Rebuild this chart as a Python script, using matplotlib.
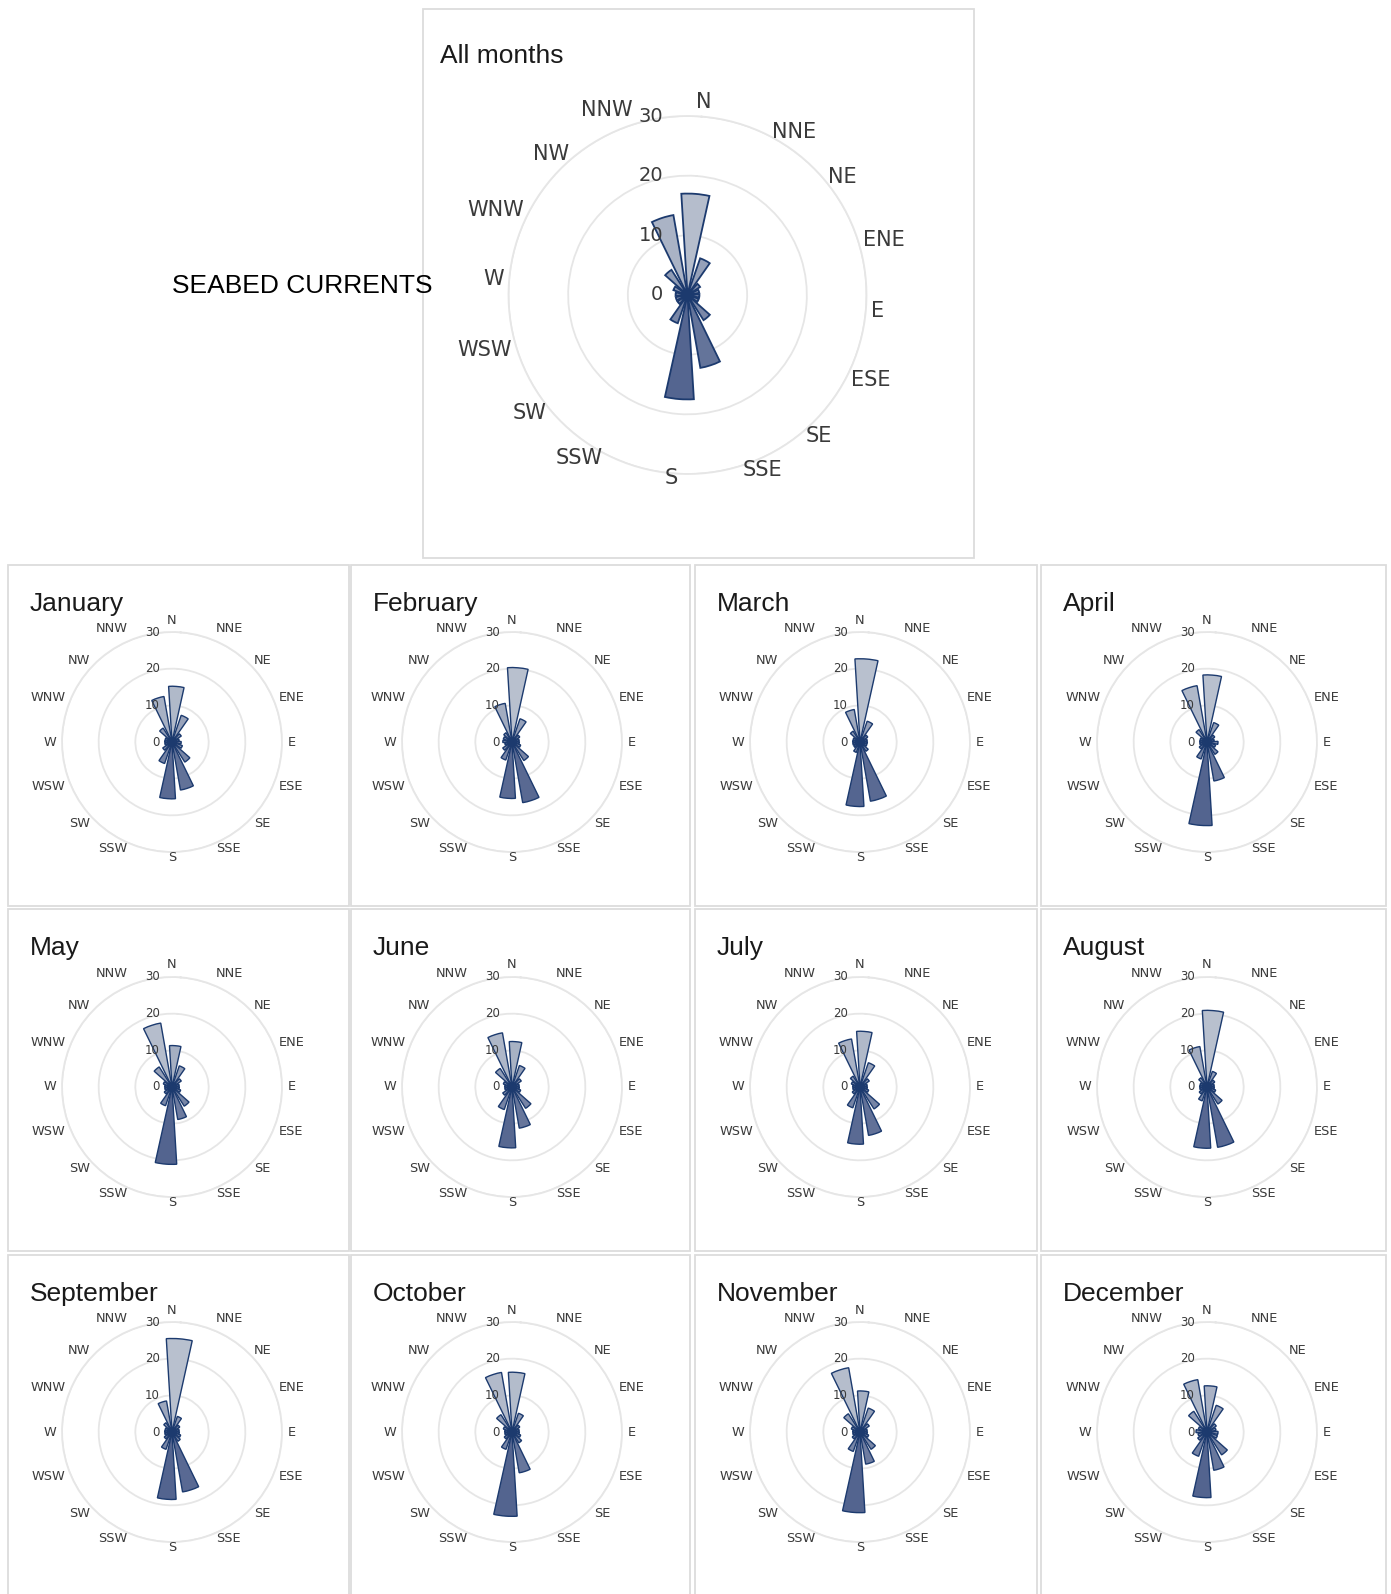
import matplotlib
matplotlib.use("Agg")
import matplotlib.pyplot as plt
import numpy as np
from matplotlib.colors import LinearSegmentedColormap
from matplotlib.patches import Rectangle
from matplotlib.transforms import offset_copy

W, H = 1391, 1594

# direction order: N, NNE, NE, ENE, E, ESE, SE, SSE, S, SSW, SW, WSW, W, WNW, NW, NNW
directions = ["N", "NNE", "NE", "ENE", "E", "ESE", "SE", "SSE",
              "S", "SSW", "SW", "WSW", "W", "WNW", "NW", "NNW"]
radial_ticks = [0, 10, 20, 30]

all_months = [17, 6.5, 2.5, 2, 2, 2, 5, 12.4, 17.5, 5, 2, 2, 2, 2.5, 5, 13.6]
january = [15.2, 7.7, 3, 2, 2.5, 3, 6.5, 13.3, 15.5, 6.2, 3, 2, 2, 2, 4.5, 12.6]
february = [20.3, 6.7, 2.5, 2, 2, 2.5, 6, 16.8, 15.4, 5.2, 3, 2, 2.5, 2.5, 3, 10.7]
march = [22.7, 6, 2.5, 2, 2, 2, 3, 16.4, 17.6, 3, 2, 2, 2, 2, 3.5, 9]
april = [18.3, 5.6, 2.5, 2, 3, 2.5, 4, 10.8, 22.8, 4.9, 2.5, 2, 2, 2, 4, 15.6]
may = [11.3, 6.1, 3, 2, 2, 2.5, 6.2, 9, 21.1, 5.4, 2.5, 2, 2, 2.5, 6.5, 17.7]
june = [12.4, 6.2, 3, 2, 2, 2.5, 6.9, 11.4, 16.6, 6.5, 3, 2, 2, 2.5, 6, 15]
july = [15.2, 7, 3, 2, 2, 2.5, 7.1, 13.4, 15.6, 6, 2.5, 2, 2, 2.5, 3.5, 13.3]
august = [20.9, 4.5, 2.5, 2, 2, 2.5, 5.5, 16.7, 16.7, 4, 2.5, 2, 2, 2, 3, 11.2]
september = [25.5, 4.5, 2.5, 2, 2, 2.5, 3, 16.6, 18.4, 5, 2.5, 2, 2, 2, 3, 8.6]
october = [16.3, 5.4, 2.5, 2, 2, 2.5, 3.5, 11.3, 23, 5, 2.5, 2, 2, 2.5, 5.6, 16.5]
november = [11.2, 6.9, 3, 2, 2, 2.5, 5.6, 8.9, 22, 5.6, 2.5, 2, 2, 2.5, 5.9, 17.8]
december = [12.6, 7.7, 3, 2.5, 3, 3, 7.4, 10.6, 17.9, 7, 3, 2.5, 3, 2.5, 6.7, 14.5]

month_names = ["January", "February", "March", "April", "May", "June", "July",
               "August", "September", "October", "November", "December"]
month_values = [january, february, march, april, may, june, july, august,
                september, october, november, december]

GRID = "#e6e6e6"
EDGE = "#1c3a6e"
LABEL = "#3a3a3a"
BOX = "#dcdcdc"
ROT = 4.5  # bars sit slightly clockwise of the compass points
cmap = LinearSegmentedColormap.from_list("rose", ["#53648f", "#b8c0ce"])


def add_box(fig, x0, y0, x1, y1):
    fig.patches.append(Rectangle((x0 / W, 1 - y1 / H), (x1 - x0) / W, (y1 - y0) / H,
                                 transform=fig.transFigure, fill=False,
                                 edgecolor=BOX, linewidth=1.3))


def draw_rose(fig, cx, cy, r, values, fs, rfs, lw, label_rot, label_r, rlab_dx):
    ax = fig.add_axes([(cx - r) / W, 1 - (cy + r) / H, 2 * r / W, 2 * r / H],
                      projection="polar")
    ax.set_facecolor("none")
    ax.set_theta_zero_location("N", offset=-ROT)
    ax.set_theta_direction(-1)

    theta = np.deg2rad(np.arange(len(directions)) * 22.5)
    vals = np.array(values)
    yc = 2.0 / 3.0 * vals * np.cos(theta + np.deg2rad(ROT))
    colors = cmap(np.clip(0.5 + yc / 24.0, 0, 1))
    ax.bar(theta, vals, width=np.deg2rad(16), bottom=0, color=colors,
           edgecolor=EDGE, linewidth=lw, zorder=3)

    ax.set_ylim(0, 30)
    ax.set_xticks([])
    ax.set_yticks([10, 20, 30])
    ax.set_yticklabels([])
    ax.yaxis.grid(True, color=GRID, linewidth=1.3)
    ax.spines["polar"].set_color(GRID)
    ax.spines["polar"].set_linewidth(1.3)

    # compass labels
    for i, name in enumerate(directions):
        vis = i * 22.5 + label_rot
        s, c = np.sin(np.deg2rad(vis)), np.cos(np.deg2rad(vis))
        ha = "left" if s > 0.15 else ("right" if s < -0.15 else "center")
        va = "bottom" if c > 0.9 else "center"
        ax.text(np.deg2rad(vis - ROT), label_r, name, ha=ha, va=va,
                fontsize=fs, color=LABEL, clip_on=False)

    # radial labels
    tr = offset_copy(ax.transData, fig=fig, x=-rlab_dx, y=0, units="dots")
    for t in radial_ticks:
        ax.text(np.deg2rad(-ROT), t, str(t), transform=tr, ha="right", va="center",
                fontsize=rfs, color=LABEL, clip_on=False)
    return ax


def main():
    fig = plt.figure(figsize=(W / 100, H / 100), dpi=100)
    fig.patch.set_facecolor("white")

    # top panel
    add_box(fig, 423, 9, 974, 558)
    fig.text(440 / W, 1 - 63 / H, "All months", fontsize=19, family="Liberation Sans",
             color="#1a1a1a", ha="left", va="baseline")
    fig.text(172 / W, 1 - 286 / H, "SEABED CURRENTS", fontsize=19,
             family="Liberation Sans", color="black", ha="left", va="center")
    draw_rose(fig, 687.5, 295, 179, all_months, 15, 14, 1.3, 5, 30.8, 24)

    # month panels
    col_edges = [(8, 349), (351, 690), (695, 1037), (1041, 1386)]
    row_edges = [(565, 906), (909, 1251), (1255, 1610)]
    centers_x = [172, 512, 860, 1207]
    centers_y = [742, 1087, 1432]
    for k, (name, vals) in enumerate(zip(month_names, month_values)):
        row, col = divmod(k, 4)
        x0, x1 = col_edges[col]
        y0, y1 = row_edges[row]
        add_box(fig, x0, y0, x1, y1)
        fig.text((x0 + 22) / W, 1 - (y0 + 46) / H, name, fontsize=19,
                 family="Liberation Sans", color="#1a1a1a", ha="left", va="baseline")
        draw_rose(fig, centers_x[col], centers_y[row], 110, vals, 9.3, 8.5, 1.0, 0, 31.5, 12)

    fig.savefig("out.png", dpi=100, facecolor="white")


if __name__ == "__main__":
    main()
